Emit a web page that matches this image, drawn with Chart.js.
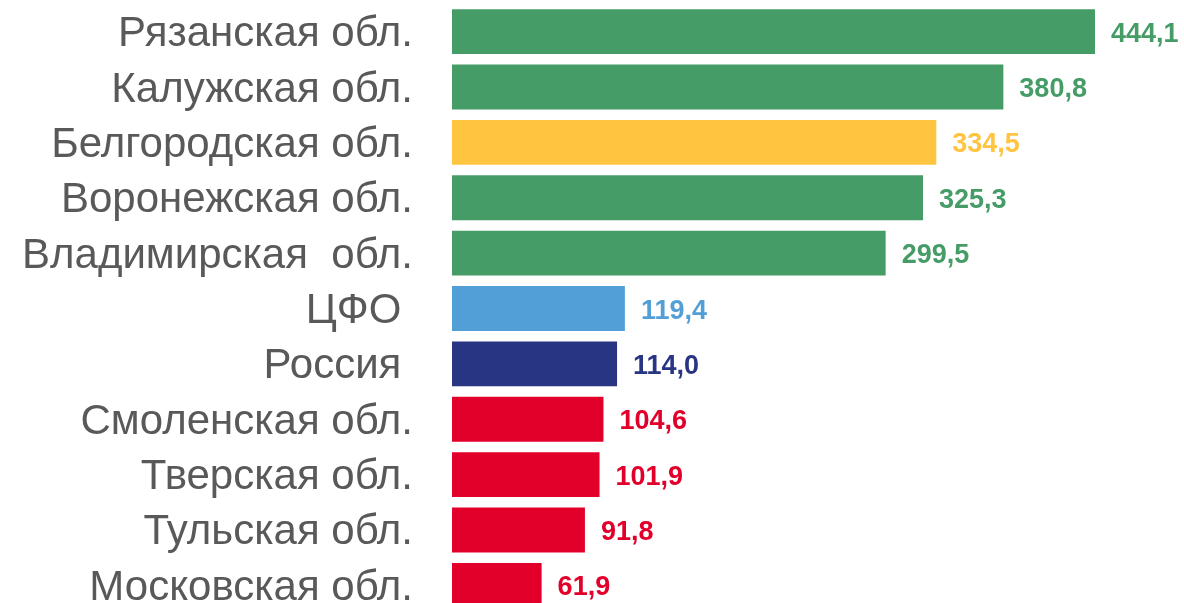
<!DOCTYPE html>
<html>
<head>
    <title>Регионы</title>
    <script src="https://cdn.jsdelivr.net/npm/chart.js"></script>
    <style>
        html, body { margin: 0; padding: 0; background: #fff; overflow: hidden; }
        #box { width: 1184px; height: 614px; position: relative; }
    </style>
</head>
<body>
    <div id="box"><canvas id="regionChart"></canvas></div>

    <script>
        const regions = ['Рязанская обл.', 'Калужская обл.', 'Белгородская обл.', 'Воронежская обл.',
            'Владимирская  обл.', 'ЦФО ', 'Россия ', 'Смоленская обл.', 'Тверская обл.',
            'Тульская обл.', 'Московская обл.'];
        const values = [444.1, 380.8, 334.5, 325.3, 299.5, 119.4, 114.0, 104.6, 101.9, 91.8, 61.9];
        const barColors = ['#459c66', '#459c66', '#ffc440', '#459c66', '#459c66', '#529fd7',
            '#283583', '#e2002b', '#e2002b', '#e2002b', '#e2002b'];

        const textLabels = {
            id: 'textLabels',
            afterDatasetsDraw(chart) {
                const c = chart.ctx;
                const meta = chart.getDatasetMeta(0);
                const left = chart.chartArea.left;
                c.save();
                c.textBaseline = 'alphabetic';
                meta.data.forEach((bar, i) => {
                    // название региона
                    c.font = '42px "Liberation Sans", Arial, sans-serif';
                    c.textAlign = 'right';
                    c.fillStyle = '#595959';
                    c.fillText(regions[i], left - 39, bar.y + 14.5);
                    // значение
                    c.font = 'bold 27px "Liberation Sans", Arial, sans-serif';
                    c.textAlign = 'left';
                    c.fillStyle = barColors[i];
                    c.fillText(values[i].toFixed(1).replace('.', ','), bar.x + 16, bar.y + 10);
                });
                c.restore();
            }
        };

        const ctx = document.getElementById('regionChart').getContext('2d');
        new Chart(ctx, {
            type: 'bar',
            data: {
                labels: regions,
                datasets: [{
                    data: values,
                    backgroundColor: barColors,
                    borderWidth: 0,
                    categoryPercentage: 1,
                    barPercentage: 0.81
                }]
            },
            options: {
                indexAxis: 'y',
                responsive: true,
                maintainAspectRatio: false,
                animation: false,
                layout: { padding: { top: 4, bottom: 1, right: 89, left: 0 } },
                plugins: { legend: { display: false }, tooltip: { enabled: false } },
                scales: {
                    x: { display: false, min: 0, max: 444.1 },
                    y: {
                        border: { display: false },
                        grid: { display: false, drawTicks: false },
                        ticks: { display: false },
                        afterFit(scale) { scale.width = 452; }
                    }
                }
            },
            plugins: [textLabels]
        });
    </script>
</body>
</html>
